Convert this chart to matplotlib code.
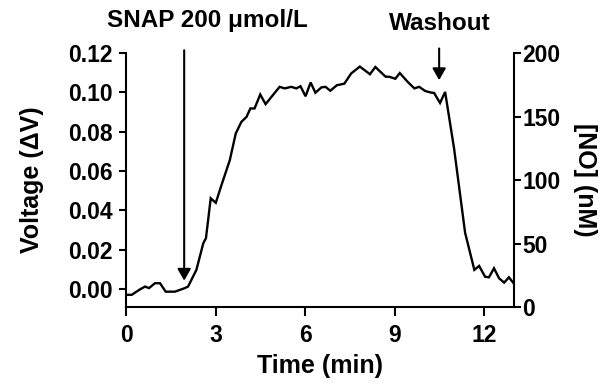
import matplotlib
matplotlib.use("Agg")
import matplotlib.pyplot as plt

plt.rcParams['font.family'] = ['Liberation Sans', 'DejaVu Sans']
plt.rcParams['font.weight'] = 'bold'

time_min = [0.00, 0.18, 0.46, 0.63, 0.76, 0.96, 1.13, 1.32, 1.63, 1.96, 2.07, 2.35,
            2.58, 2.67, 2.83, 3.00, 3.19, 3.47, 3.67, 3.86, 4.03, 4.16, 4.30, 4.49,
            4.67, 5.14, 5.31, 5.53, 5.70, 5.84, 6.01, 6.18, 6.34, 6.54, 6.68, 6.84,
            7.06, 7.31, 7.54, 7.83, 8.17, 8.35, 8.69, 8.82, 9.02, 9.17, 9.43, 9.66,
            9.82, 10.02, 10.21, 10.32, 10.52, 10.69, 10.99, 11.36, 11.67, 11.83,
            12.03, 12.16, 12.33, 12.50, 12.67, 12.83, 12.97]
voltage = [-0.0030, -0.0030, -0.0002, 0.0012, 0.0004, 0.0029, 0.0029, -0.0014,
           -0.0014, 0.0004, 0.0012, 0.0097, 0.0232, 0.0258, 0.0461, 0.0438, 0.0528,
           0.0655, 0.0791, 0.0850, 0.0875, 0.0918, 0.0918, 0.0989, 0.0940, 0.1028,
           0.1020, 0.1028, 0.1020, 0.1031, 0.0980, 0.1050, 0.0998, 0.1025, 0.1028,
           0.1008, 0.1036, 0.1044, 0.1096, 0.1131, 0.1092, 0.1129, 0.1080, 0.1079,
           0.1069, 0.1098, 0.1054, 0.1020, 0.1028, 0.1007, 0.0999, 0.0997, 0.0946,
           0.1002, 0.0715, 0.0286, 0.0097, 0.0117, 0.0062, 0.0059, 0.0105, 0.0054,
           0.0032, 0.0059, 0.0032]

x_ticks = [0, 3, 6, 9, 12]
left_ticks = [0.00, 0.02, 0.04, 0.06, 0.08, 0.10, 0.12]
left_tick_labels = ['0.00', '0.02', '0.04', '0.06', '0.08', '0.10', '0.12']
right_ticks = [0, 50, 100, 150, 200]

snap_time = 1.94
washout_time = 10.49

fig = plt.figure(figsize=(6.03, 3.85), dpi=100)
ax = fig.add_axes([0.2095, 0.2026, 0.6429, 0.6597])
ax.plot(time_min, voltage, color='black', lw=1.7, solid_joinstyle='miter')
ax.set_xlim(0, 13)
ax.set_ylim(-0.0092, 0.12)
ax.set_xticks(x_ticks)
ax.set_xticklabels([str(t) for t in x_ticks])
ax.set_yticks(left_ticks)
ax.set_yticklabels(left_tick_labels)
ax.spines['top'].set_visible(False)
ax.spines['right'].set_visible(False)
for s in ['left', 'bottom']:
    ax.spines[s].set_linewidth(1.5)
ax.tick_params(axis='x', length=6.5, width=1.5, labelsize=16.5, pad=6)
ax.tick_params(axis='y', length=5, width=1.5, labelsize=16.5, pad=5)
for lab in ax.get_xticklabels() + ax.get_yticklabels():
    lab.set_fontweight('bold')
ax.set_xlabel('Time (min)', fontsize=18, fontweight='bold', labelpad=5)
ax.set_ylabel('Voltage (ΔV)', fontsize=18, fontweight='bold', labelpad=17)

ax2 = ax.twinx()
ax2.set_ylim(0, 200)
ax2.set_yticks(right_ticks)
ax2.set_yticklabels([str(v) for v in right_ticks])
for s in ['top', 'left', 'bottom']:
    ax2.spines[s].set_visible(False)
ax2.spines['right'].set_linewidth(1.5)
ax2.tick_params(axis='y', length=5, width=1.5, labelsize=16.5, pad=1)
for lab in ax2.get_yticklabels():
    lab.set_fontweight('bold')
ax2.set_ylabel('[NO] (nM)', fontsize=18, fontweight='bold', rotation=-90, labelpad=26)

arrow_kw = dict(arrowstyle='-|>,head_length=0.35,head_width=0.2', color='black',
                lw=1.5, shrinkA=0, shrinkB=0, mutation_scale=20)
ax.annotate('', xy=(snap_time, 0.0042), xytext=(snap_time, 0.1214),
            arrowprops=arrow_kw, annotation_clip=False)
ax.annotate('', xy=(washout_time, 0.1062), xytext=(washout_time, 0.1223),
            arrowprops=arrow_kw, annotation_clip=False)

fig.text(207 / 603, 1 - 21 / 385, 'SNAP 200 μmol/L', fontsize=17.5, fontweight='bold',
         ha='center', va='center')
fig.text(440 / 603, 1 - 24 / 385, 'Washout', fontsize=17.5, fontweight='bold',
         ha='center', va='center')

fig.savefig('out.png', dpi=100)
